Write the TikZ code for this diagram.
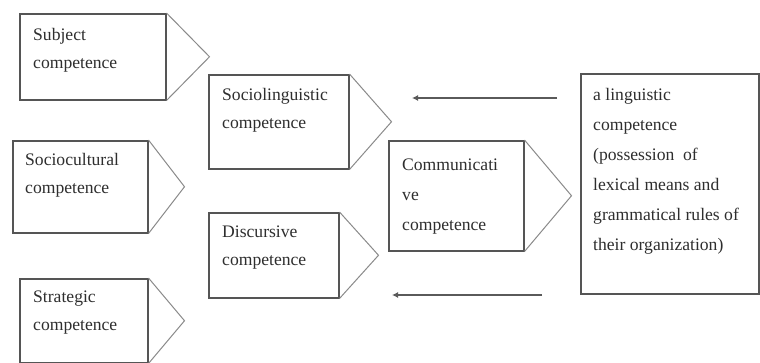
\documentclass[tikz,border=0pt]{standalone}
\usepackage{fontspec}
\setmainfont{Liberation Serif}
\usetikzlibrary{arrows.meta}
\definecolor{txtc}{HTML}{2E2E2E}
\definecolor{boxc}{HTML}{555555}
\definecolor{tric}{HTML}{8A8A8A}
\definecolor{arrc}{HTML}{5A5A5A}
\newcommand{\tl}{\rule{0pt}{13pt}}
\tikzset{
  box/.style={draw=boxc, line width=1.5pt, fill=white, inner sep=0pt},
  tri/.style={draw=tric, line width=1pt},
  txt/.style={anchor=north west, inner sep=0pt, text=txtc, align=left,
    font=\fontsize{17.6}{28}\selectfont},
  txtw/.style={txt, font=\fontsize{17.6}{30}\selectfont},
  arr/.style={draw=arrc, line width=1.6pt, -{Latex[length=6pt,width=6pt]}},
}
\begin{document}
\begin{tikzpicture}[x=1pt,y=-1pt]
\useasboundingbox (0,0) rectangle (760,362);
\fill[white] (0,0) rectangle (760,362);
% boxes
\node[box, anchor=north west, minimum width=146pt, minimum height=86pt] (subj) at (19,13) {};
\node[box, anchor=north west, minimum width=135pt, minimum height=92pt] (socc) at (12,140) {};
\node[box, anchor=north west, minimum width=128pt, minimum height=84pt] (strat) at (19,278) {};
\node[box, anchor=north west, minimum width=140pt, minimum height=94pt] (socl) at (208,74) {};
\node[box, anchor=north west, minimum width=130pt, minimum height=85pt] (disc) at (208,212) {};
\node[box, anchor=north west, minimum width=135pt, minimum height=110pt] (comm) at (388,140) {};
\node[box, anchor=north west, minimum width=178pt, minimum height=220pt] (ling) at (580,73) {};
% tips
\coordinate (subjtip) at ([xshift=43pt]subj.east);
\coordinate (socctip) at ([xshift=36pt]socc.east);
\coordinate (strattip) at ([xshift=36pt]strat.east);
\coordinate (socltip) at ([xshift=42pt]socl.east);
\coordinate (disctip) at ([xshift=39pt]disc.east);
\coordinate (commtip) at ([xshift=47pt]comm.east);
\foreach \n in {subj,socc,strat,socl,disc,comm}{
  \draw[tri] (\n.north east) -- (\n tip) -- (\n.south east);
}
% texts
\node[txt] (subjt) at ([xshift=14pt,yshift=-14pt]subj.north west) {\tl Subject\\competence};
\node[txt] (socct) at ([xshift=13pt,yshift=-12pt]socc.north west) {\tl Sociocultural\\competence};
\node[txt] (stratt) at ([xshift=14pt,yshift=-11pt]strat.north west) {\tl Strategic\\competence};
\node[txt] (soclt) at ([xshift=14pt,yshift=-13pt]socl.north west) {\tl Sociolinguistic\\competence};
\node[txt] (disct) at ([xshift=14pt,yshift=-12pt]disc.north west) {\tl Discursive\\competence};
\node[txtw] (commt) at ([xshift=14pt,yshift=-17pt]comm.north west) {\tl Communicati\\ve\\competence};
\node[txtw] (lingt) at ([xshift=13pt,yshift=-14pt]ling.north west) {\tl a linguistic\\competence\\(possession\ \ of\\lexical means and\\grammatical rules of\\their organization)};
% arrows
\coordinate (a1s) at (557,98);
\coordinate (a1e) at (412,98);
\coordinate (a2s) at (542,295);
\coordinate (a2e) at (392,295);
\draw[arr] (a1s) -- (a1e);
\draw[arr] (a2s) -- (a2e);
\end{tikzpicture}
\end{document}
